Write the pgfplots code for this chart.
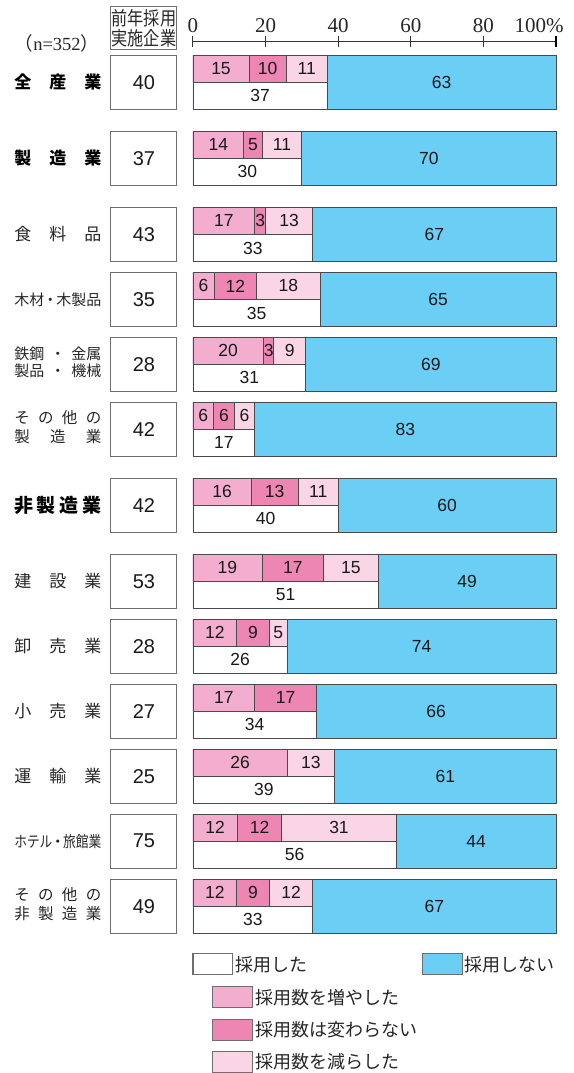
\documentclass[border=0pt]{standalone}
\usepackage{graphicx}
\usepackage{pgfplots}
\pgfplotsset{compat=1.18}
\usepackage{pgfplotstable}
\usepackage{fontspec}
\setmainfont{Liberation Sans}
\newfontfamily\serif{Liberation Serif}
\newfontfamily\cjk{Noto Sans CJK JP}
\definecolor{cblue}{HTML}{6BCEF5}
\definecolor{pinc}{HTML}{F3ADCE}
\definecolor{psame}{HTML}{EE86B3}
\definecolor{pdec}{HTML}{F9D5E6}
\definecolor{edge}{HTML}{4A4A4A}
\definecolor{boxgray}{HTML}{6E6E6E}

% y = row centre (negative pixel row); wi/ws/wd = drawn widths of the three pink parts
\pgfplotstableread{
y      box wi     ws     wd     hired nothired total li ls ld
-82.2  40  15.42  10.28  11.31  37    63       100   15 10 11
-158.2 37  14     5      11     30    70       100   14 5  11
-234.5 43  17     3      13     33    67       100   17 3  13
-299.5 35  5.83   11.67  17.50  35    65       100   6  12 18
-364.2 28  19.38  2.91   8.72   31    69       100   20 3  9
-429.2 42  5.67   5.67   5.67   17    83       100   6  6  6
-505.3 42  16     13     11     40    60       100   16 13 11
-581.3 53  19     17     15     51    49       100   19 17 15
-646.2 28  12     9      5      26    74       100   12 9  5
-711.2 27  17     17     0      34    66       100   17 17 {}
-776.2 25  26     0      13     39    61       100   26 {} 13
-841.2 75  12.22  12.22  31.56  56    44       100   12 12 31
-906.2 49  12     9      12     33    67       100   12 9  12
}\rows

\newcommand\barfont{\fontsize{17.5}{18}\selectfont}
\newcommand\rl[1]{{\color{black!85}\cjk\fontsize{17}{17}\selectfont\makebox[87pt][s]{#1}}}
\newcommand\bl[2]{{\cjk\bfseries\fontsize{#1}{#1}\selectfont\makebox[87pt][s]{#2}}}
\newcommand\twol[4]{{\color{black!85}\cjk\fontsize{#1}{#2}\selectfont\begin{tabular}{@{}c@{}}\makebox[87pt][s]{#3}\\\makebox[87pt][s]{#4}\end{tabular}}}

\pgfplotsset{
  seglab/.style 2 args={nodes near coords, point meta=explicit symbolic,
    visualization depends on={\thisrow{#1}/2 \as \halfw},
    every node near coord/.append style={anchor=center, inner sep=0pt, font=\barfont, text=black!90,
      shift={(axis direction cs:-\halfw,#2)}}},
}

\begin{document}
\begin{tikzpicture}
\begin{axis}[
  scale only axis, width=363pt, height=1031pt,
  xmin=0, xmax=100, ymin=-1073, ymax=-42,
  clip=false,
  axis x line*=top, axis y line*=left,
  y axis line style={draw=none},
  x axis line style={draw=black!80, line width=1pt},
  xtick={0,20,40,60,80},
  xticklabels={0,20,40,60,80},
  extra x ticks={100}, extra x tick labels={100\%},
  extra x tick style={xtick style={draw=black, line width=2.6pt}, xticklabel style={xshift=-17pt}},
  tick align=center, major tick length=11pt,
  xtick style={draw=black!80, line width=1pt},
  xticklabel style={font=\serif\fontsize{21}{21}\selectfont, text=black!85, anchor=base, inner sep=0pt, yshift=4pt},
  ytick={-906.2,-841.2,-776.2,-711.2,-646.2,-581.3,-505.3,-429.2,-364.2,-299.5,-234.5,-158.2,-82.2},
  yticklabels={
    {\twol{15.5}{18}{そ\hfill の\hfill 他\hfill の}{非\hfill 製\hfill 造\hfill 業}},
    {{\color{black!85}\cjk\fontsize{15.5}{15.5}\selectfont\makebox[87pt][s]{\scalebox{0.82}[1]{ホテル}\hfill\makebox[5pt]{・}\hfill\scalebox{0.82}[1]{旅館業}}}},
    {\rl{運\hfill 輸\hfill 業}},
    {\rl{小\hfill 売\hfill 業}},
    {\rl{卸\hfill 売\hfill 業}},
    {\rl{建\hfill 設\hfill 業}},
    {\bl{19}{非\hfill 製\hfill 造\hfill 業}},
    {\twol{15.5}{18}{そ\hfill の\hfill 他\hfill の}{製\hfill 造\hfill 業}},
    {\twol{15}{15.5}{鉄鋼\hfill\makebox[8pt]{・}\hfill 金属}{製品\hfill\makebox[8pt]{・}\hfill 機械}},
    {{\color{black!85}\cjk\fontsize{15}{15}\selectfont\makebox[87pt][s]{木材\hfill\makebox[6pt]{・}\hfill 木製品}}},
    {\rl{食\hfill 料\hfill 品}},
    {\bl{17}{製\hfill 造\hfill 業}},
    {\bl{17}{全\hfill 産\hfill 業}}},
  ytick style={draw=none},
  yticklabel style={anchor=east, inner sep=0pt, xshift=-86pt},
]
% blue: not hired (full height)
\addplot[xbar, bar width=54.3, bar shift=0, fill=cblue, draw=edge, line width=0.9pt, seglab={nothired}{0}]
  table[x=total, y=y, meta=nothired] {\rows};
% white: hired (lower half)
\addplot[xbar, bar width=27.15, bar shift=-13.575, fill=white, draw=edge, line width=0.9pt, seglab={hired}{-13.575}]
  table[x=hired, y=y, meta=hired] {\rows};
% pink parts (upper half), drawn from the longest to the shortest
\addplot[xbar, bar width=27.15, bar shift=13.575, fill=pdec, draw=edge, line width=0.9pt, seglab={wd}{13.575}]
  table[x expr=\thisrow{wi}+\thisrow{ws}+\thisrow{wd}, y=y, meta=ld] {\rows};
\addplot[xbar, bar width=27.15, bar shift=13.575, fill=psame, draw=edge, line width=0.9pt, seglab={ws}{13.575}]
  table[x expr=\thisrow{wi}+\thisrow{ws}, y=y, meta=ls] {\rows};
\addplot[xbar, bar width=27.15, bar shift=13.575, fill=pinc, draw=edge, line width=0.9pt, seglab={wi}{13.575}]
  table[x=wi, y=y, meta=li] {\rows};
% boxes: firms that hired the previous year
\addplot[color=white, only marks, mark=*, mark size=0.3pt,
  nodes near coords, point meta=explicit symbolic,
  every node near coord/.append style={anchor=center, draw=boxgray, line width=1pt,
    minimum width=66pt, minimum height=54.3pt, inner sep=0pt,
    font=\fontsize{20}{20}\selectfont, text=black!90}]
  table[x expr=-13.5, y=y, meta=box] {\rows};
\coordinate (O) at (axis cs:-53.168,0);
\coordinate (E) at (axis cs:104.959,-1073);
\end{axis}
\begin{scope}[shift={(O)}, x=1pt, y=-1pt]
  \draw[boxgray, line width=1pt] (111,7) rectangle (177,50);
  \node[align=center, inner sep=0pt, text=black!85, font=\cjk\fontsize{19}{19.5}\selectfont] at (144,28.5)
    {\scalebox{0.85}[1]{前年採用}\\\scalebox{0.85}[1]{実施企業}};
  \node[inner sep=0pt, text=black!85, font=\fontsize{18.5}{18.5}\selectfont] at (57,43)
    {{\cjk（}{\serif n=352}{\cjk）}};
  % legend
  \begin{scope}[font=\cjk\fontsize{18}{18}\selectfont, every node/.style={anchor=west, inner sep=0pt, text=black!85}]
    \draw[boxgray, line width=1pt, fill=white] (193,954) rectangle (232,975);
    \node at (235,964.5) {採用した};
    \draw[boxgray, line width=1pt, fill=cblue] (422,954) rectangle (462,975);
    \node at (464,964.5) {採用しない};
    \draw[boxgray, line width=1pt, fill=pinc] (212,987) rectangle (252,1008);
    \node at (255,997.5) {採用数を増やした};
    \draw[boxgray, line width=1pt, fill=psame] (212,1019.5) rectangle (252,1040.5);
    \node at (255,1030) {採用数は変わらない};
    \draw[boxgray, line width=1pt, fill=pdec] (212,1051.5) rectangle (252,1072.5);
    \node at (255,1062) {採用数を減らした};
  \end{scope}
\end{scope}
\pgfresetboundingbox
\path[use as bounding box] (O) rectangle (E);
\end{tikzpicture}
\end{document}
